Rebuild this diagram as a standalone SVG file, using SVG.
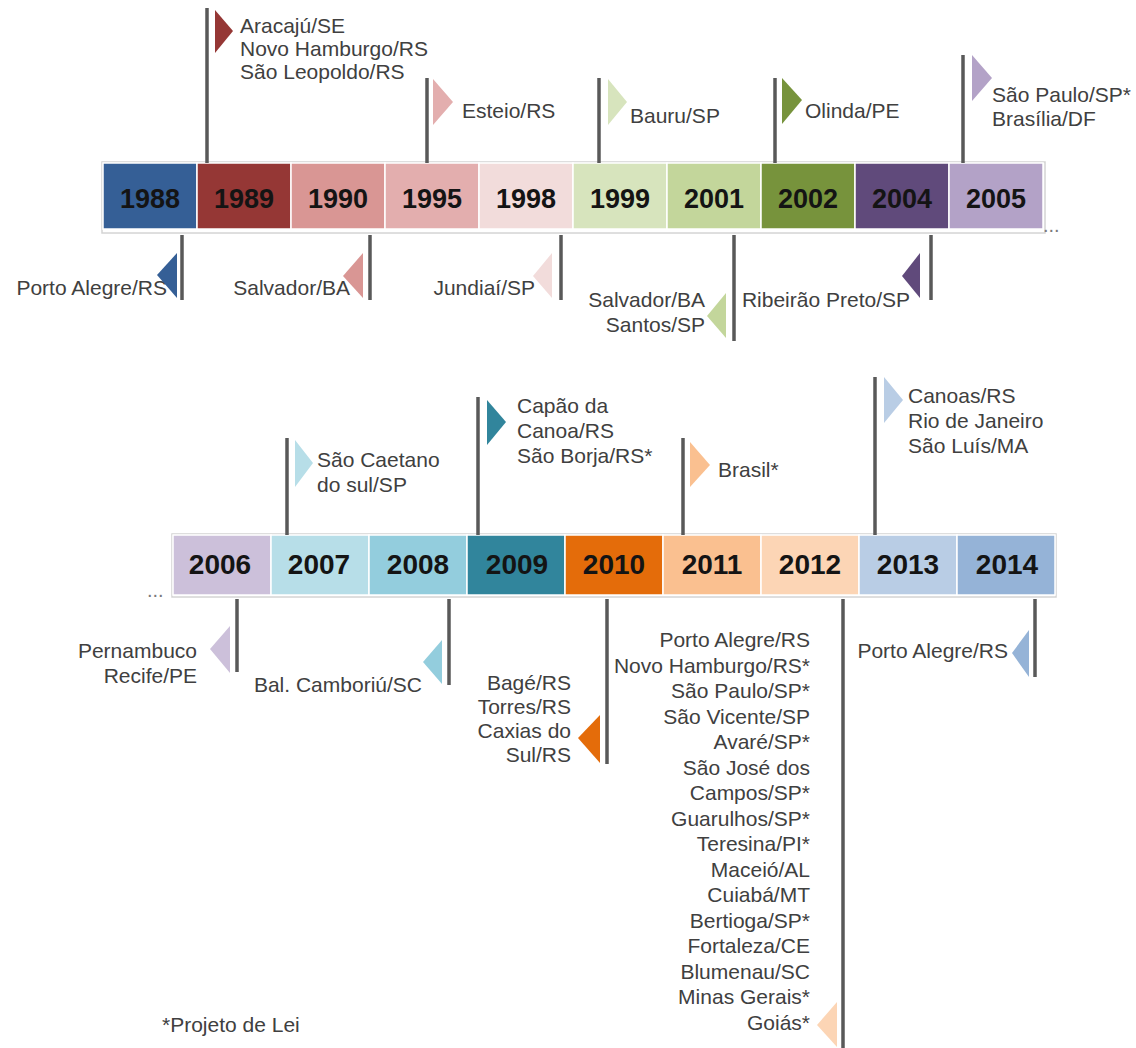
<svg xmlns="http://www.w3.org/2000/svg" width="1136" height="1048" viewBox="0 0 1136 1048">
  <style>
    .yr { font-family: "Liberation Sans", Arial, sans-serif; font-weight: bold; font-size: 27px; fill: #141414; text-anchor: middle; }
    .yr2 { font-size: 28px; }
    .lb { font-family: "Liberation Sans", Arial, sans-serif; font-size: 21px; fill: #404040; }
    .end { text-anchor: end; }
    .cell { stroke: #ffffff; stroke-width: 1.5; }
    .frame { fill: #ffffff; stroke: #d4d4d4; stroke-width: 1.5; }
    .pole { stroke: #595959; stroke-width: 3.5; fill: none; }
    .dots { font-family: "Liberation Sans", Arial, sans-serif; font-size: 20px; fill: #7a7a7a; }
  </style>

  <rect width="1136" height="1048" fill="#ffffff"/>

  <!-- Timeline bar 1988-2005 -->
  <g id="bar-top">
    <rect class="frame" x="102" y="162" width="943" height="71"/>
    <g id="y1988"><rect class="cell" x="103" y="163" width="94" height="66" fill="#355f96"/><text class="yr" x="150" y="208">1988</text></g>
    <g id="y1989"><rect class="cell" x="197" y="163" width="94" height="66" fill="#953735"/><text class="yr" x="244" y="208">1989</text></g>
    <g id="y1990"><rect class="cell" x="291" y="163" width="94" height="66" fill="#d99694"/><text class="yr" x="338" y="208">1990</text></g>
    <g id="y1995"><rect class="cell" x="385" y="163" width="94" height="66" fill="#e3aeae"/><text class="yr" x="432" y="208">1995</text></g>
    <g id="y1998"><rect class="cell" x="479" y="163" width="94" height="66" fill="#f2dcdb"/><text class="yr" x="526" y="208">1998</text></g>
    <g id="y1999"><rect class="cell" x="573" y="163" width="94" height="66" fill="#d7e4bd"/><text class="yr" x="620" y="208">1999</text></g>
    <g id="y2001"><rect class="cell" x="667" y="163" width="94" height="66" fill="#c3d69b"/><text class="yr" x="714" y="208">2001</text></g>
    <g id="y2002"><rect class="cell" x="761" y="163" width="94" height="66" fill="#77933c"/><text class="yr" x="808" y="208">2002</text></g>
    <g id="y2004"><rect class="cell" x="855" y="163" width="94" height="66" fill="#604a7b"/><text class="yr" x="902" y="208">2004</text></g>
    <g id="y2005"><rect class="cell" x="949" y="163" width="94" height="66" fill="#b3a2c7"/><text class="yr" x="996" y="208">2005</text></g>
    <text class="dots" x="1043" y="232">...</text>
  </g>

  <!-- Timeline bar 2006-2014 -->
  <g id="bar-bottom">
    <rect class="frame" x="172" y="534" width="884" height="63"/>
    <text class="dots" x="147" y="597">...</text>
    <g id="y2006"><rect class="cell" x="173" y="535" width="98" height="60" fill="#ccc0da"/><text class="yr yr2" x="220" y="574">2006</text></g>
    <g id="y2007"><rect class="cell" x="271" y="535" width="98" height="60" fill="#b7dee8"/><text class="yr yr2" x="319" y="574">2007</text></g>
    <g id="y2008"><rect class="cell" x="369" y="535" width="98" height="60" fill="#93cddd"/><text class="yr yr2" x="418" y="574">2008</text></g>
    <g id="y2009"><rect class="cell" x="467" y="535" width="98" height="60" fill="#31859c"/><text class="yr yr2" x="517" y="574">2009</text></g>
    <g id="y2010"><rect class="cell" x="565" y="535" width="98" height="60" fill="#e46c0a"/><text class="yr yr2" x="614" y="574">2010</text></g>
    <g id="y2011"><rect class="cell" x="663" y="535" width="98" height="60" fill="#fac090"/><text class="yr yr2" x="712" y="574">2011</text></g>
    <g id="y2012"><rect class="cell" x="761" y="535" width="98" height="60" fill="#fcd5b5"/><text class="yr yr2" x="810" y="574">2012</text></g>
    <g id="y2013"><rect class="cell" x="859" y="535" width="98" height="60" fill="#b9cde5"/><text class="yr yr2" x="908" y="574">2013</text></g>
    <g id="y2014"><rect class="cell" x="957" y="535" width="98" height="60" fill="#95b3d7"/><text class="yr yr2" x="1007" y="574">2014</text></g>
  </g>

  <!-- Poles linking each event to its year -->
  <g id="connectors">
    <line class="pole" x1="207" y1="8" x2="207" y2="163"/>
    <line class="pole" x1="427" y1="78" x2="427" y2="163"/>
    <line class="pole" x1="599" y1="78" x2="599" y2="163"/>
    <line class="pole" x1="775" y1="78" x2="775" y2="163"/>
    <line class="pole" x1="963" y1="55" x2="963" y2="163"/>
    <line class="pole" x1="182" y1="235" x2="182" y2="300"/>
    <line class="pole" x1="370" y1="235" x2="370" y2="300"/>
    <line class="pole" x1="561" y1="235" x2="561" y2="300"/>
    <line class="pole" x1="734" y1="235" x2="734" y2="341"/>
    <line class="pole" x1="931" y1="235" x2="931" y2="300"/>
    <line class="pole" x1="287" y1="438" x2="287" y2="535"/>
    <line class="pole" x1="478" y1="397" x2="478" y2="535"/>
    <line class="pole" x1="683" y1="438" x2="683" y2="535"/>
    <line class="pole" x1="875" y1="377" x2="875" y2="535"/>
    <line class="pole" x1="237" y1="599" x2="237" y2="672"/>
    <line class="pole" x1="449" y1="599" x2="449" y2="685"/>
    <line class="pole" x1="607" y1="599" x2="607" y2="764"/>
    <line class="pole" x1="843" y1="599" x2="843" y2="1048"/>
    <line class="pole" x1="1035" y1="599" x2="1035" y2="677"/>
  </g>

  <!-- Events above the first bar -->
  <g id="ev1989">
    <polygon points="215,10 233,31 215,53" fill="#953735"/>
    <text class="lb" x="240" y="33">Aracajú/SE</text>
    <text class="lb" x="240" y="56">Novo Hamburgo/RS</text>
    <text class="lb" x="240" y="79">São Leopoldo/RS</text>
  </g>
  <g id="ev1995">
    <polygon points="433,79 453,102 433,125" fill="#e3aeae"/>
    <text class="lb" x="462" y="118">Esteio/RS</text>
  </g>
  <g id="ev1999">
    <polygon points="608,79 627,102 608,125" fill="#d7e4bd"/>
    <text class="lb" x="630" y="123">Bauru/SP</text>
  </g>
  <g id="ev2002">
    <polygon points="782,78 802,100 782,124" fill="#77933c"/>
    <text class="lb" x="805" y="118">Olinda/PE</text>
  </g>
  <g id="ev2005">
    <polygon points="972,55 992,78 972,101" fill="#b3a2c7"/>
    <text class="lb" x="992" y="102">São Paulo/SP*</text>
    <text class="lb" x="992" y="126">Brasília/DF</text>
  </g>

  <!-- Events below the first bar -->
  <g id="ev1988">
    <text class="lb end" x="167" y="295">Porto Alegre/RS</text>
    <polygon points="177,253 157,275 177,298" fill="#355f96"/>
  </g>
  <g id="ev1990">
    <text class="lb end" x="350" y="295">Salvador/BA</text>
    <polygon points="363,253 343,276 363,298" fill="#d99694"/>
  </g>
  <g id="ev1998">
    <text class="lb end" x="535" y="295">Jundiaí/SP</text>
    <polygon points="552,253 533,276 552,298" fill="#f2dcdb"/>
  </g>
  <g id="ev2001">
    <text class="lb end" x="705" y="307">Salvador/BA</text>
    <text class="lb end" x="705" y="332">Santos/SP</text>
    <polygon points="726,293 707,316 726,338" fill="#c3d69b"/>
  </g>
  <g id="ev2004">
    <text class="lb end" x="910" y="307">Ribeirão Preto/SP</text>
    <polygon points="920,253 902,276 920,298" fill="#604a7b"/>
  </g>

  <!-- Events above the second bar -->
  <g id="ev2007">
    <polygon points="295,440 313,463 295,487" fill="#b7dee8"/>
    <text class="lb" x="317" y="467">São Caetano</text>
    <text class="lb" x="317" y="492">do sul/SP</text>
  </g>
  <g id="ev2009">
    <polygon points="487,400 506,422 487,445" fill="#31859c"/>
    <text class="lb" x="517" y="413">Capão da</text>
    <text class="lb" x="517" y="438">Canoa/RS</text>
    <text class="lb" x="517" y="463">São Borja/RS*</text>
  </g>
  <g id="ev2011">
    <polygon points="690,442 710,465 690,487" fill="#fac090"/>
    <text class="lb" x="718" y="477">Brasil*</text>
  </g>
  <g id="ev2013">
    <polygon points="884,377 903,400 884,423" fill="#b9cde5"/>
    <text class="lb" x="908" y="403">Canoas/RS</text>
    <text class="lb" x="908" y="428">Rio de Janeiro</text>
    <text class="lb" x="908" y="453">São Luís/MA</text>
  </g>

  <!-- Events below the second bar -->
  <g id="ev2006">
    <text class="lb end" x="197" y="658">Pernambuco</text>
    <text class="lb end" x="197" y="683">Recife/PE</text>
    <polygon points="230,626 210,649 230,673" fill="#ccc0da"/>
  </g>
  <g id="ev2008">
    <text class="lb end" x="422" y="692">Bal. Camboriú/SC</text>
    <polygon points="442,640 423,662 442,684" fill="#93cddd"/>
  </g>
  <g id="ev2010">
    <text class="lb end" x="571" y="690">Bagé/RS</text>
    <text class="lb end" x="571" y="714">Torres/RS</text>
    <text class="lb end" x="571" y="738">Caxias do</text>
    <text class="lb end" x="571" y="762">Sul/RS</text>
    <polygon points="600,715 578,738 600,763" fill="#e46c0a"/>
  </g>
  <g id="ev2012">
    <text class="lb end" x="810" y="647">Porto Alegre/RS</text>
    <text class="lb end" x="810" y="672.5">Novo Hamburgo/RS*</text>
    <text class="lb end" x="810" y="698">São Paulo/SP*</text>
    <text class="lb end" x="810" y="723.5">São Vicente/SP</text>
    <text class="lb end" x="810" y="749">Avaré/SP*</text>
    <text class="lb end" x="810" y="774.5">São José dos</text>
    <text class="lb end" x="810" y="800">Campos/SP*</text>
    <text class="lb end" x="810" y="825.5">Guarulhos/SP*</text>
    <text class="lb end" x="810" y="851">Teresina/PI*</text>
    <text class="lb end" x="810" y="876.5">Maceió/AL</text>
    <text class="lb end" x="810" y="902">Cuiabá/MT</text>
    <text class="lb end" x="810" y="927.5">Bertioga/SP*</text>
    <text class="lb end" x="810" y="953">Fortaleza/CE</text>
    <text class="lb end" x="810" y="978.5">Blumenau/SC</text>
    <text class="lb end" x="810" y="1004">Minas Gerais*</text>
    <text class="lb end" x="810" y="1029.5">Goiás*</text>
    <polygon points="837,1002 817,1025 837,1047" fill="#fcd5b5"/>
  </g>
  <g id="ev2014">
    <text class="lb end" x="1008" y="658">Porto Alegre/RS</text>
    <polygon points="1029,630 1012,653 1029,677" fill="#95b3d7"/>
  </g>

  <!-- Footnote -->
  <text class="lb" x="162" y="1032">*Projeto de Lei</text>
</svg>
